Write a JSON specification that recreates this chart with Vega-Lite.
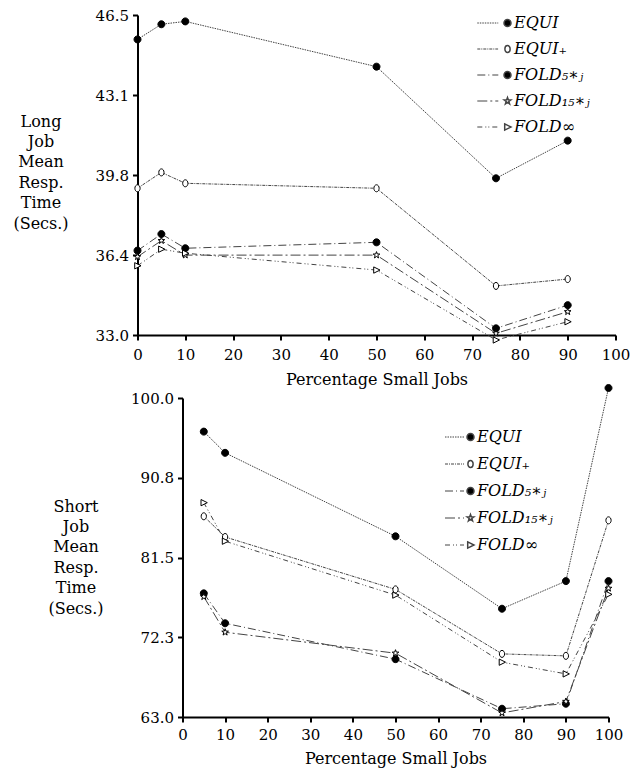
{
  "$schema": "https://vega.github.io/schema/vega-lite/v6.json",
  "padding": {"left": 12.5, "top": 8, "right": 0, "bottom": 8},
  "background": "white",
  "config": {
    "view": {"stroke": null},
    "font": "DejaVu Serif",
    "axis": {
      "domainColor": "black", "domainWidth": 2, "tickColor": "black", "tickWidth": 2, "tickSize": 5,
      "grid": false, "labelFont": "DejaVu Serif", "labelFontSize": 15, "labelColor": "black",
      "titleFont": "DejaVu Serif", "titleFontSize": 16, "titleFontWeight": "normal", "titleColor": "black",
      "labelFlush": false, "labelOverlap": false
    },
    "legend": {
      "orient": "none", "symbolSize": 49, "labelFont": "DejaVu Serif", "labelFontStyle": "italic",
      "labelFontSize": 16, "labelColor": "black", "rowPadding": 10, "labelOffset": -1.5, "padding": 0, "clipHeight": 16
    }
  },
  "datasets": {
    "long": [
      {"policy": "EQUI", "pct": 0, "time": 45.47}, {"policy": "EQUI", "pct": 5, "time": 46.11}, {"policy": "EQUI", "pct": 10, "time": 46.23},
      {"policy": "EQUI", "pct": 50, "time": 44.32}, {"policy": "EQUI", "pct": 75, "time": 39.61}, {"policy": "EQUI", "pct": 90, "time": 41.2},
      {"policy": "EQUI₊", "pct": 0, "time": 39.19}, {"policy": "EQUI₊", "pct": 5, "time": 39.86}, {"policy": "EQUI₊", "pct": 10, "time": 39.4},
      {"policy": "EQUI₊", "pct": 50, "time": 39.19}, {"policy": "EQUI₊", "pct": 75, "time": 35.07}, {"policy": "EQUI₊", "pct": 90, "time": 35.36},
      {"policy": "FOLD₅∗ⱼ", "pct": 0, "time": 36.56}, {"policy": "FOLD₅∗ⱼ", "pct": 5, "time": 37.26}, {"policy": "FOLD₅∗ⱼ", "pct": 10, "time": 36.66},
      {"policy": "FOLD₅∗ⱼ", "pct": 50, "time": 36.91}, {"policy": "FOLD₅∗ⱼ", "pct": 75, "time": 33.28}, {"policy": "FOLD₅∗ⱼ", "pct": 90, "time": 34.26},
      {"policy": "FOLD₁₅∗ⱼ", "pct": 0, "time": 36.3}, {"policy": "FOLD₁₅∗ⱼ", "pct": 5, "time": 36.98}, {"policy": "FOLD₁₅∗ⱼ", "pct": 10, "time": 36.37},
      {"policy": "FOLD₁₅∗ⱼ", "pct": 50, "time": 36.37}, {"policy": "FOLD₁₅∗ⱼ", "pct": 75, "time": 33.07}, {"policy": "FOLD₁₅∗ⱼ", "pct": 90, "time": 33.98},
      {"policy": "FOLD∞", "pct": 0, "time": 35.92}, {"policy": "FOLD∞", "pct": 5, "time": 36.62}, {"policy": "FOLD∞", "pct": 10, "time": 36.45},
      {"policy": "FOLD∞", "pct": 50, "time": 35.74}, {"policy": "FOLD∞", "pct": 75, "time": 32.79}, {"policy": "FOLD∞", "pct": 90, "time": 33.56}
    ],
    "short": [
      {"policy": "EQUI", "pct": 5, "time": 96.1}, {"policy": "EQUI", "pct": 10, "time": 93.64}, {"policy": "EQUI", "pct": 50, "time": 83.96},
      {"policy": "EQUI", "pct": 75, "time": 75.56}, {"policy": "EQUI", "pct": 90, "time": 78.76}, {"policy": "EQUI", "pct": 100, "time": 101.16},
      {"policy": "EQUI₊", "pct": 5, "time": 86.28}, {"policy": "EQUI₊", "pct": 10, "time": 83.88}, {"policy": "EQUI₊", "pct": 50, "time": 77.8},
      {"policy": "EQUI₊", "pct": 75, "time": 70.32}, {"policy": "EQUI₊", "pct": 90, "time": 70.09}, {"policy": "EQUI₊", "pct": 100, "time": 85.81},
      {"policy": "FOLD₅∗ⱼ", "pct": 5, "time": 77.34}, {"policy": "FOLD₅∗ⱼ", "pct": 10, "time": 73.87}, {"policy": "FOLD₅∗ⱼ", "pct": 50, "time": 69.71},
      {"policy": "FOLD₅∗ⱼ", "pct": 75, "time": 63.96}, {"policy": "FOLD₅∗ⱼ", "pct": 90, "time": 64.54}, {"policy": "FOLD₅∗ⱼ", "pct": 100, "time": 78.76},
      {"policy": "FOLD₁₅∗ⱼ", "pct": 5, "time": 76.95}, {"policy": "FOLD₁₅∗ⱼ", "pct": 10, "time": 72.83}, {"policy": "FOLD₁₅∗ⱼ", "pct": 50, "time": 70.4},
      {"policy": "FOLD₁₅∗ⱼ", "pct": 75, "time": 63.47}, {"policy": "FOLD₁₅∗ⱼ", "pct": 90, "time": 64.8}, {"policy": "FOLD₁₅∗ⱼ", "pct": 100, "time": 77.92},
      {"policy": "FOLD∞", "pct": 5, "time": 87.86}, {"policy": "FOLD∞", "pct": 10, "time": 83.39}, {"policy": "FOLD∞", "pct": 50, "time": 77.14},
      {"policy": "FOLD∞", "pct": 75, "time": 69.36}, {"policy": "FOLD∞", "pct": 90, "time": 68.0}, {"policy": "FOLD∞", "pct": 100, "time": 77.22}
    ]
  },
  "bounds": "flush",
  "spacing": 63,
  "resolve": {"scale": {"shape": "independent", "fill": "independent", "strokeDash": "independent", "opacity": "independent"}, "legend": {"shape": "independent", "fill": "independent", "strokeDash": "independent", "opacity": "independent"}},
  "vconcat": [
    {
      "width": 478, "height": 320,
      "data": {"name": "long"},
      "encoding": {
        "x": {"field": "pct", "type": "quantitative", "scale": {"domain": [0, 100], "nice": false},
          "axis": {"values": [0, 10, 20, 30, 40, 50, 60, 70, 80, 90, 100], "title": "Percentage Small Jobs", "labelPadding": 7, "titlePadding": 9}},
        "y": {"field": "time", "type": "quantitative", "scale": {"domain": [33, 46.5], "nice": false, "zero": false},
          "axis": {"values": [33, 36.375, 39.75, 43.125, 46.5], "format": ".1f", "labelPadding": 4,
            "title": ["Long", "Job", "Mean", "Resp.", "Time", "(Secs.)"], "titleAngle": 0, "titleAlign": "center",
            "titleBaseline": "top", "titleX": -97, "titleY": 98, "titleLineHeight": 20.4}}
      },
      "layer": [
        {"mark": {"type": "line", "color": "#444", "strokeWidth": 1},
          "encoding": {
            "strokeDash": {"field": "policy", "type": "nominal",
              "scale": {"domain": ["FOLD∞", "FOLD₁₅∗ⱼ", "FOLD₅∗ⱼ", "EQUI₊", "EQUI"], "range": [[5, 3, 1, 2, 1, 3], [10, 3, 2, 3], [8, 3, 1, 3], [3, 1, 1, 1], [1.5, 1]]},
              "legend": {"title": null, "orient": "none", "legendX": 339.3, "legendY": 0, "symbolSize": 484, "symbolStrokeWidth": 1,
                "labelExpr": "''", "values": ["EQUI", "EQUI₊", "FOLD₅∗ⱼ", "FOLD₁₅∗ⱼ", "FOLD∞"]}},
            "opacity": {"field": "policy", "type": "nominal",
              "scale": {"domain": ["EQUI", "EQUI₊", "FOLD₅∗ⱼ", "FOLD₁₅∗ⱼ", "FOLD∞"], "range": [1, 1, 1, 1, 1]},
              "legend": {"title": null, "orient": "none", "legendX": 362, "legendY": 0}}
          }},
        {"mark": {"type": "point", "size": 49, "strokeWidth": 1, "stroke": "black", "opacity": 1},
          "encoding": {
            "fill": {"field": "policy", "type": "nominal",
              "scale": {"domain": ["EQUI", "EQUI₊", "FOLD₅∗ⱼ", "FOLD₁₅∗ⱼ", "FOLD∞"], "range": ["black", "white", "black", "white", "white"]}},
            "shape": {"field": "policy", "type": "nominal",
              "scale": {"domain": ["EQUI", "EQUI₊", "FOLD₅∗ⱼ", "FOLD₁₅∗ⱼ", "FOLD∞"],
                "range": ["M1,0A1,1 0 1,1 -1,0A1,1 0 1,1 1,0Z", "M0.75,0A0.75,1 0 1,1 -0.75,0A0.75,1 0 1,1 0.75,0Z", "M1,0A1,1 0 1,1 -1,0A1,1 0 1,1 1,0Z",
                  "M0,-1L0.235,-0.324L0.951,-0.309L0.38,0.124L0.588,0.809L0,0.4L-0.588,0.809L-0.38,0.124L-0.951,-0.309L-0.235,-0.324Z",
                  "M-0.8,-0.9L1,0L-0.8,0.9Z"]},
              "legend": {"title": null, "orient": "none", "legendX": 362, "legendY": 0}}
          }}
      ]
    },
    {
      "bounds": "flush",
      "spacing": 44,
      "resolve": {"scale": {"shape": "independent", "fill": "independent", "strokeDash": "independent", "opacity": "independent"}, "legend": {"shape": "independent", "fill": "independent", "strokeDash": "independent", "opacity": "independent"}},
      "hconcat": [
        {"width": 1, "height": 1, "data": {"values": []}, "mark": "point", "encoding": {}},
        {
          "width": 426, "height": 319,
          "data": {"name": "short"},
          "encoding": {
            "x": {"field": "pct", "type": "quantitative", "scale": {"domain": [0, 100], "nice": false},
              "axis": {"values": [0, 10, 20, 30, 40, 50, 60, 70, 80, 90, 100], "title": "Percentage Small Jobs", "labelPadding": 5, "titlePadding": 8}},
            "y": {"field": "time", "type": "quantitative", "scale": {"domain": [63, 100], "nice": false, "zero": false},
              "axis": {"values": [63, 72.25, 81.5, 90.75, 100], "format": ".1f", "labelPadding": 4,
                "title": ["Short", "Job", "Mean", "Resp.", "Time", "(Secs.)"], "titleAngle": 0, "titleAlign": "center",
                "titleBaseline": "top", "titleX": -107, "titleY": 100, "titleLineHeight": 20.4}}
          },
          "layer": [
            {"mark": {"type": "line", "color": "#444", "strokeWidth": 1},
              "encoding": {
                "strokeDash": {"field": "policy", "type": "nominal",
                  "scale": {"domain": ["FOLD∞", "FOLD₁₅∗ⱼ", "FOLD₅∗ⱼ", "EQUI₊", "EQUI"], "range": [[5, 3, 1, 2, 1, 3], [10, 3, 2, 3], [8, 3, 1, 3], [3, 1, 1, 1], [1.5, 1]]},
                  "legend": {"title": null, "orient": "none", "legendX": 262, "legendY": 31, "rowPadding": 11, "symbolSize": 400, "symbolStrokeWidth": 1,
                    "labelExpr": "''", "values": ["EQUI", "EQUI₊", "FOLD₅∗ⱼ", "FOLD₁₅∗ⱼ", "FOLD∞"]}},
                "opacity": {"field": "policy", "type": "nominal",
                  "scale": {"domain": ["EQUI", "EQUI₊", "FOLD₅∗ⱼ", "FOLD₁₅∗ⱼ", "FOLD∞"], "range": [1, 1, 1, 1, 1]},
                  "legend": {"title": null, "orient": "none", "legendX": 280, "legendY": 31, "rowPadding": 11}}
              }},
            {"mark": {"type": "point", "size": 49, "strokeWidth": 1, "stroke": "black", "opacity": 1},
              "encoding": {
                "fill": {"field": "policy", "type": "nominal",
                  "scale": {"domain": ["EQUI", "EQUI₊", "FOLD₅∗ⱼ", "FOLD₁₅∗ⱼ", "FOLD∞"], "range": ["black", "white", "black", "white", "white"]}},
                "shape": {"field": "policy", "type": "nominal",
                  "scale": {"domain": ["EQUI", "EQUI₊", "FOLD₅∗ⱼ", "FOLD₁₅∗ⱼ", "FOLD∞"],
                    "range": ["M1,0A1,1 0 1,1 -1,0A1,1 0 1,1 1,0Z", "M0.75,0A0.75,1 0 1,1 -0.75,0A0.75,1 0 1,1 0.75,0Z", "M1,0A1,1 0 1,1 -1,0A1,1 0 1,1 1,0Z",
                      "M0,-1L0.235,-0.324L0.951,-0.309L0.38,0.124L0.588,0.809L0,0.4L-0.588,0.809L-0.38,0.124L-0.951,-0.309L-0.235,-0.324Z",
                      "M-0.8,-0.9L1,0L-0.8,0.9Z"]},
                  "legend": {"title": null, "orient": "none", "legendX": 280, "legendY": 31, "rowPadding": 11}}
              }}
          ]
        }
      ]
    }
  ]
}
